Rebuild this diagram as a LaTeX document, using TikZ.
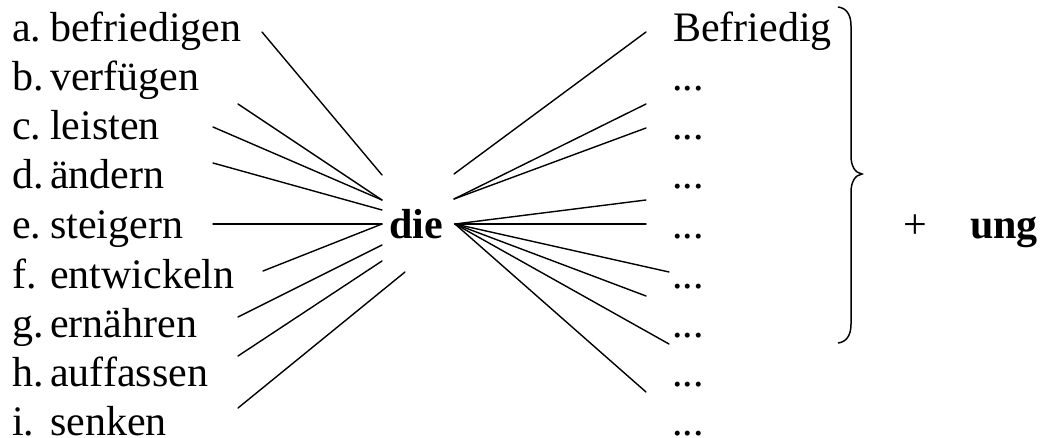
\documentclass[tikz,border=0pt]{standalone}
\usepackage{fontspec}
\setmainfont{Liberation Serif}
\begin{document}
\begin{tikzpicture}[x=1pt,y=-1pt,
  txt/.style={inner sep=0pt, anchor=base west, font=\fontsize{42}{50}\selectfont},
  link/.style={line width=1.4pt, line cap=round},
  bracepath/.style={line width=1.5pt}]
\useasboundingbox (0,0) rectangle (1040,438);

% verb list on the left
\foreach \k/\lab/\w/\y in {1/a./befriedigen/42, 2/b./verfügen/91, 3/c./leisten/140,
    4/d./ändern/189, 5/e./steigern/239, 6/f./entwickeln/288, 7/g./ernähren/337,
    8/h./auffassen/386, 9/i./senken/435}{
  \node[txt] (lab\k) at (12,\y) {\lab};
  \node[txt] (verb\k) at (50,\y) {\w};
}

% article in the middle
\node[txt, font=\fontsize{42}{50}\selectfont\bfseries] (die) at (389,239) {die};

% noun stems on the right
\node[txt] (stem1) at (673,42) {Befriedig};
\foreach \k/\y in {2/91, 3/140, 4/189, 5/239, 6/288, 7/337, 8/386, 9/435}{
  \node[txt] (stem\k) at (672,\y) {...};
}

% suffix
\node[txt] (plus) at (903,239) {+};
\node[txt, font=\fontsize{42}{50}\selectfont\bfseries] (ung) at (970,239) {ung};

% line ends on the verb side
\coordinate (va) at (262,32);  \coordinate (ha) at (382,175);
\coordinate (vb) at (238,104); \coordinate (hb) at (382,200);
\coordinate (vc) at (213,127); \coordinate (hc) at (382,200);
\coordinate (vd) at (213,163); \coordinate (hd) at (382,210);
\coordinate (ve) at (213,224); \coordinate (he) at (382,224);
\coordinate (vf) at (263,271); \coordinate (hf) at (382,224);
\coordinate (vg) at (238,317); \coordinate (hg) at (382,245);
\coordinate (vh) at (238,356); \coordinate (hh) at (382,261);
\coordinate (vi) at (238,408); \coordinate (hi) at (405,272);

\foreach \c in {a,b,c,d,e,f,g,h,i}{
  \draw[link] (v\c) -- (h\c);
}

% line ends on the noun side
\coordinate (ra) at (454,174);
\coordinate (rb) at (454,199);
\coordinate (rc) at (455,224);
\coordinate (s1) at (646,32);
\coordinate (s2) at (646,104);
\coordinate (s3) at (646,128);
\coordinate (s4) at (646,200);
\coordinate (s5) at (646,224);
\coordinate (s6) at (669,272);
\coordinate (s7) at (646,296);
\coordinate (s8) at (669,344);
\coordinate (s9) at (646,392);

\draw[link] (ra) -- (s1);
\draw[link] (rb) -- (s2);
\draw[link] (rb) -- (s3);
\foreach \k in {4,5,6,7,8,9}{
  \draw[link] (rc) -- (s\k);
}

% curly brace grouping the stems
\draw[bracepath] (838,7) .. controls (846,8) and (851,14) .. (851,26)
  -- (851,156) .. controls (851,166) and (855,173) .. (862,174)
  .. controls (855,175) and (851,182) .. (851,192)
  -- (851,324) .. controls (851,336) and (846,342) .. (838,343);
\end{tikzpicture}
\end{document}
